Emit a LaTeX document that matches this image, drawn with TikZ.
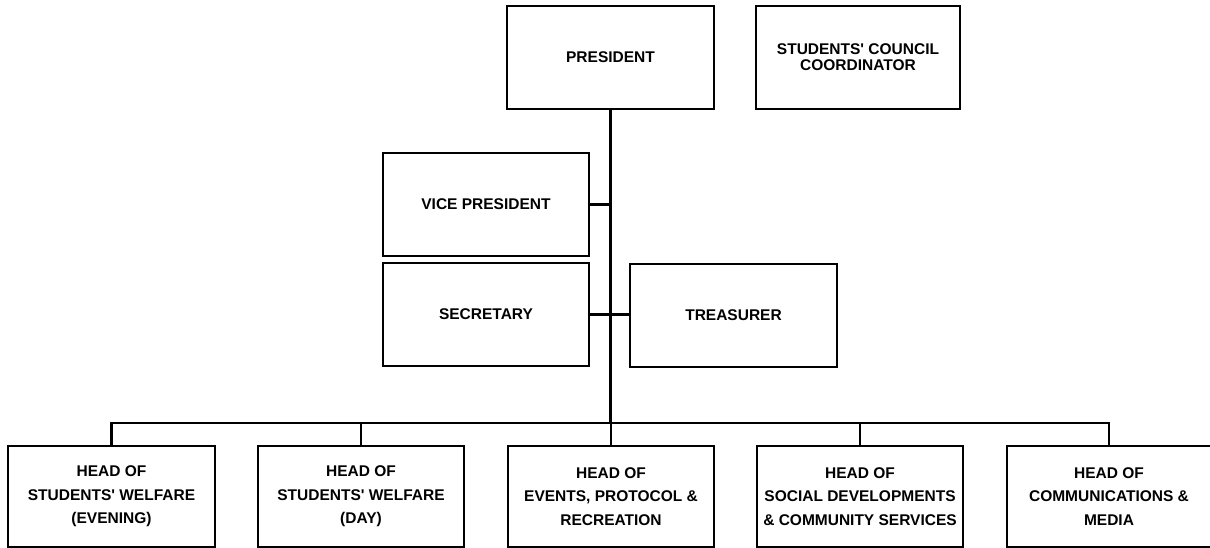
\documentclass[tikz,border=0pt]{standalone}
\usepackage{fontspec}
\newfontfamily\lsans{Liberation Sans}
\begin{document}
\begin{tikzpicture}[x=1pt,y=-1pt,
  orgbox/.style={draw=black, line width=2pt, rectangle, align=center, inner sep=0pt,
    minimum width=206pt, minimum height=103pt,
    font=\lsans\bfseries\fontsize{15.5}{23.5}\selectfont},
  lowbox/.style={orgbox, minimum height=101pt},
  link/.style={draw=black, line width=2.2pt},
  mainlink/.style={draw=black, line width=3pt}]
\useasboundingbox (0,0) rectangle (1210,548);
\node[orgbox, minimum width=207pt] (pres) at (610.5,57.5) {PRESIDENT};
\node[orgbox, minimum width=204pt, font=\lsans\bfseries\fontsize{15.5}{16}\selectfont] (coord) at (858,57.5) {STUDENTS\textquotesingle{} COUNCIL\\COORDINATOR};
\node[orgbox] (vp) at (486,204.5) {VICE PRESIDENT};
\node[orgbox] (sec) at (486,314.5) {SECRETARY};
\node[orgbox, minimum width=207pt] (tre) at (733.5,315.5) {TREASURER};
\node[lowbox, minimum width=207pt] (b1) at (111.5,496.5) {HEAD OF\\STUDENTS\textquotesingle{} WELFARE\\(EVENING)};
\node[lowbox] (b2) at (361,496.5) {HEAD OF\\STUDENTS\textquotesingle{} WELFARE\\(DAY)};
\node[lowbox] (b3) at (611,496.5) {HEAD OF\\EVENTS, PROTOCOL \&\\RECREATION};
\node[lowbox] (b4) at (860,496.5) {HEAD OF\\SOCIAL DEVELOPMENTS\\\& COMMUNITY SERVICES};
\node[lowbox, minimum width=204pt] (b5) at (1109,496.5) {HEAD OF\\COMMUNICATIONS \&\\MEDIA};
\coordinate (bus) at (611,423);
\draw[mainlink] (pres.south) -- (pres.south |- bus);
\draw[link] (vp.east) -- (vp.east -| pres.south);
\draw[link] (sec.east) -- (sec.east -| tre.west);
\draw[link] (b1.north) -- (b1.north |- bus) -- (b5.north |- bus) -- (b5.north);
\draw[link] (b2.north) -- (b2.north |- bus);
\draw[link] (b3.north) -- (b3.north |- bus);
\draw[link] (b4.north) -- (b4.north |- bus);
\end{tikzpicture}
\end{document}
